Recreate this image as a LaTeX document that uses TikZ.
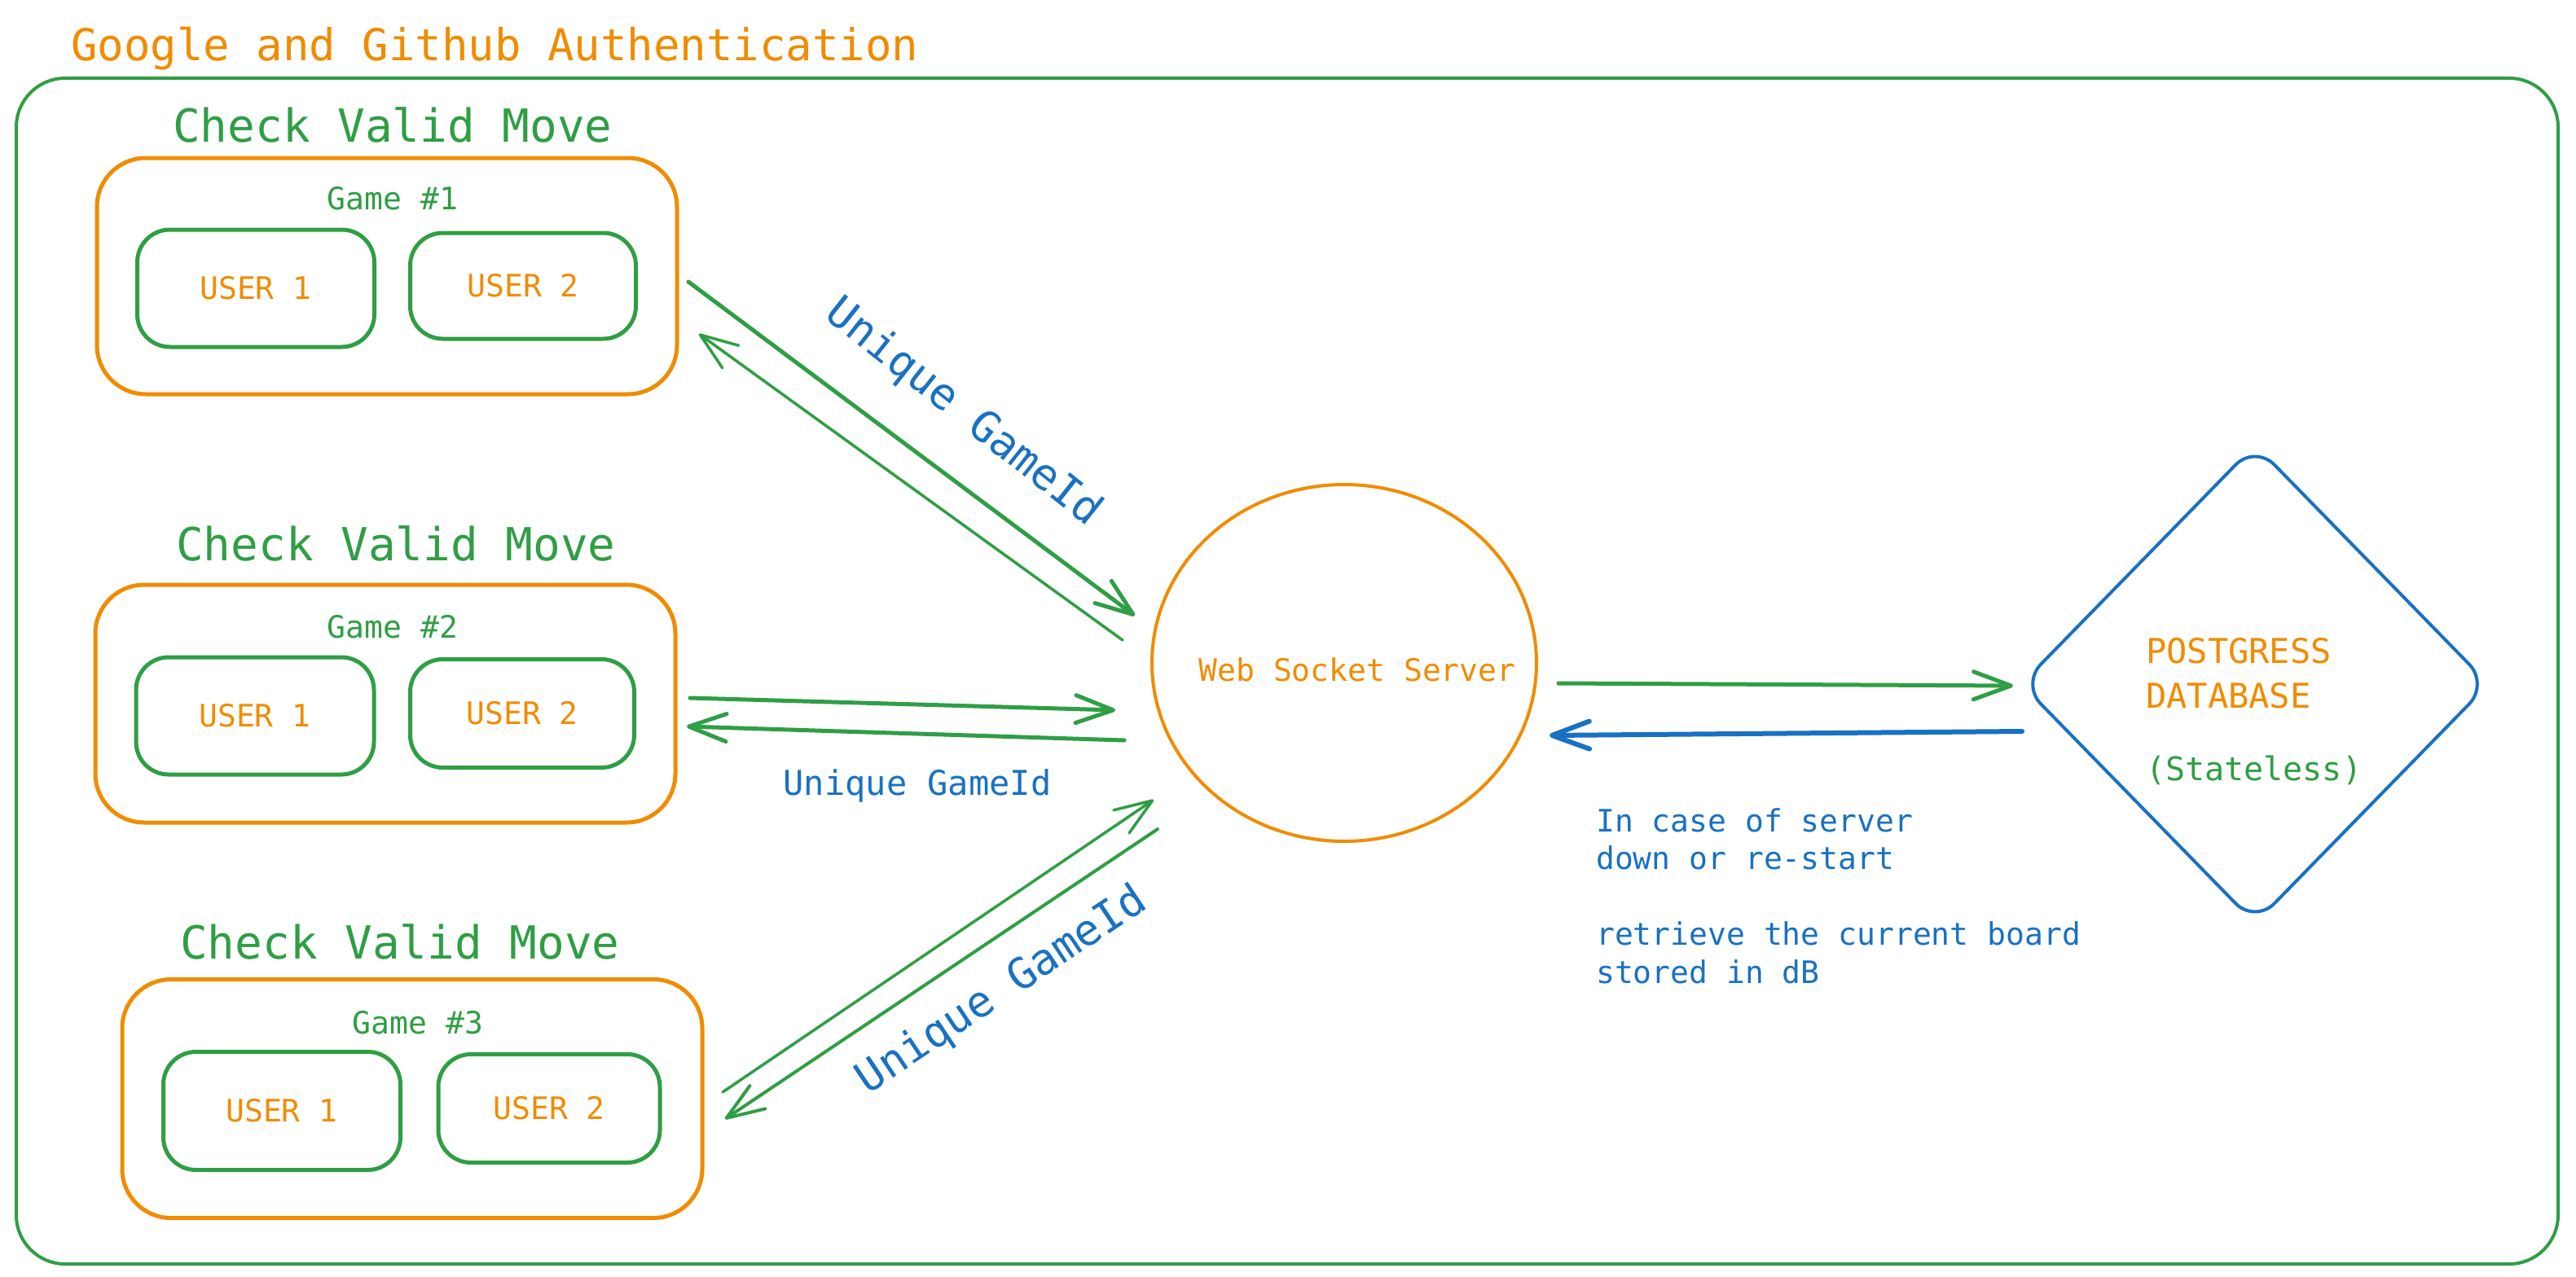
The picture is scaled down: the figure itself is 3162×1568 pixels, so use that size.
\documentclass[tikz,border=0pt]{standalone}
\usepackage{fontspec}
\setmonofont{DejaVu Sans Mono}
\usetikzlibrary{arrows.meta,shapes.geometric}
\definecolor{exorange}{HTML}{F08C00}
\definecolor{exgreen}{HTML}{2F9E44}
\definecolor{exblue}{HTML}{1971C2}
\begin{document}
\begin{tikzpicture}[x=1pt,y=-1pt,
  bigtxt/.style={font=\ttfamily\fontsize{56}{66}\selectfont, inner sep=0pt},
  titletxt/.style={font=\ttfamily\fontsize{54}{64}\selectfont, inner sep=0pt, text=exorange},
  smalltxt/.style={font=\ttfamily\fontsize{38}{46.5}\selectfont, inner sep=0pt},
  idtxt/.style={font=\ttfamily\fontsize{42}{50}\selectfont, inner sep=0pt, text=exblue},
  idrot/.style={font=\ttfamily\fontsize{53}{60}\selectfont, inner sep=0pt, text=exblue},
  outerbox/.style={draw=exgreen, line width=4pt, rounded corners=60pt, inner sep=0pt},
  gamebox/.style={draw=exorange, line width=5pt, rounded corners=60pt, inner sep=0pt},
  userbox/.style={draw=exgreen, line width=5pt, rounded corners=40pt, inner sep=0pt, smalltxt, text=exorange},
  flow/.style={draw=exgreen, line cap=round, line join=round, -{Straight Barb[length=46pt,width=34pt,round]}},
  heavy/.style={flow, line width=5pt},
  light/.style={flow, line width=3.5pt},
]
\useasboundingbox (0,0) rectangle (3162,1568);
\fill[white] (0,0) rectangle (3162,1568);

% outer authentication frame
\node[outerbox, minimum width=3120pt, minimum height=1456pt] (auth) at (1580,824) {};
\node[titletxt, anchor=base west] (title) at (87,75) {Google and Github Authentication};

% game 1
\node[bigtxt, text=exgreen] (cvm1) at (482,153) {Check Valid Move};
\node[gamebox, minimum width=712pt, minimum height=290pt] (game1) at (475,339) {};
\node[smalltxt, text=exgreen] (g1lab) at (482,244) {Game \#1};
\node[userbox, minimum width=291pt, minimum height=144pt] (g1u1) at (314,354) {USER 1};
\node[userbox, minimum width=277pt, minimum height=130pt] (g1u2) at (642,351) {USER 2};

% game 2
\node[bigtxt, text=exgreen] (cvm2) at (486,667) {Check Valid Move};
\node[gamebox, minimum width=712pt, minimum height=292pt] (game2) at (473,864) {};
\node[smalltxt, text=exgreen] (g2lab) at (482,770) {Game \#2};
\node[userbox, minimum width=292pt, minimum height=144pt] (g2u1) at (313,879) {USER 1};
\node[userbox, minimum width=275pt, minimum height=133pt] (g2u2) at (641,876) {USER 2};

% game 3
\node[bigtxt, text=exgreen] (cvm3) at (491,1156) {Check Valid Move};
\node[gamebox, minimum width=712pt, minimum height=293pt] (game3) at (506,1349) {};
\node[smalltxt, text=exgreen] (g3lab) at (513,1256) {Game \#3};
\node[userbox, minimum width=291pt, minimum height=145pt] (g3u1) at (346,1364) {USER 1};
\node[userbox, minimum width=272pt, minimum height=133pt] (g3u2) at (674,1361) {USER 2};

% web socket server
\node[ellipse, draw=exorange, line width=4pt, minimum width=472pt, minimum height=438pt, inner sep=0pt] (wss) at (1650,814) {};
\node[smalltxt, text=exorange] (wsslab) at (1666,822) {Web Socket Server};

% database
\node[diamond, draw=exblue, line width=4pt, rounded corners=34pt, minimum width=575pt, minimum height=589pt, inner sep=0pt] (db) at (2768,840) {};
\node[font=\ttfamily\fontsize{42}{50}\selectfont, inner sep=0pt, text=exorange, anchor=base west] (dbname1) at (2634,814) {POSTGRESS};
\node[font=\ttfamily\fontsize{42}{50}\selectfont, inner sep=0pt, text=exorange, anchor=base west] (dbname2) at (2634,869) {DATABASE};
\node[font=\ttfamily\fontsize{40}{48}\selectfont, inner sep=0pt, text=exgreen, anchor=base west] (dbstate) at (2634,958) {(Stateless)};

% note
\node[smalltxt, text=exblue, align=left, anchor=north west] (note) at (1959,992)
  {In case of server\\down or re-start\\[46.5pt]retrieve the current board\\stored in dB};

% connector end points
\coordinate (a1s) at (845,346);
\coordinate (a1e) at (1393,756);
\coordinate (b1s) at (1378,786);
\coordinate (b1e) at (858,410);
\coordinate (c2s) at (847,857);
\coordinate (c2e) at (1369,872);
\coordinate (d2s) at (1380,909);
\coordinate (d2e) at (843,892);
\coordinate (e3s) at (887,1341);
\coordinate (e3e) at (1416,982);
\coordinate (f3s) at (1421,1018);
\coordinate (f3e) at (890,1374);
\coordinate (gs) at (1913,839);
\coordinate (ge) at (2471,842);
\coordinate (hs) at (2482,898);
\coordinate (he) at (1902,903);

\draw[heavy] (a1s) -- (a1e);
\draw[light] (b1s) -- (b1e);
\draw[heavy] (c2s) -- (c2e);
\draw[heavy] (d2s) -- (d2e);
\draw[light] (e3s) -- (e3e);
\draw[flow, line width=4pt] (f3s) -- (f3e);
\draw[heavy] (gs) -- (ge);
\draw[flow, draw=exblue, line width=6pt] (hs) -- (he);

% labels
\node[idrot, rotate=-38.4] (lab1) at (1182,507) {Unique GameId};
\node[idtxt] (lab2) at (1126,965) {Unique GameId};
\node[idrot, rotate=33.7] (lab3) at (1230,1217) {Unique GameId};
\end{tikzpicture}
\end{document}
